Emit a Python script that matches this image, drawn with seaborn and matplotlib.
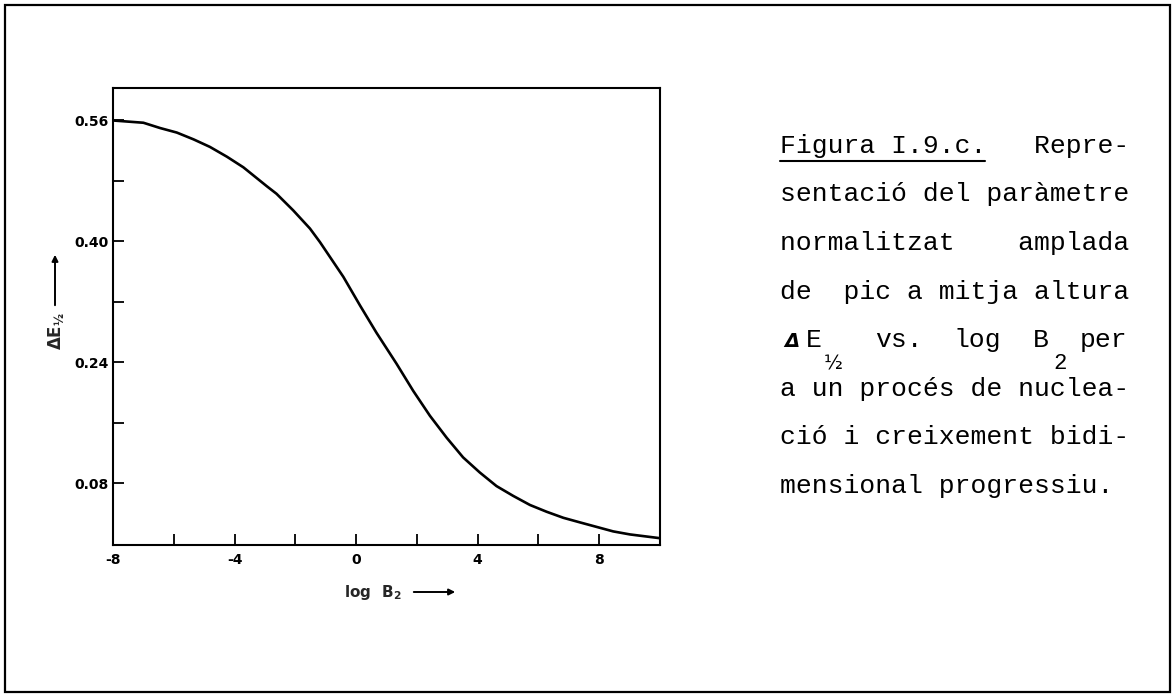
import matplotlib
matplotlib.use("Agg")
import matplotlib.pyplot as plt
import seaborn as sns
import pandas as pd
from matplotlib.patches import Rectangle, FancyArrowPatch
from matplotlib.lines import Line2D

# Normalised half-peak width vs. log B2 (progressive 2D nucleation and growth)
log_b2 = [-8.00, -7.00, -6.45, -5.90, -5.35, -4.81, -4.25, -3.71, -2.94, -2.62,
          -2.07, -1.52, -1.19, -0.42, 0.13, 0.67, 1.33, 1.88, 2.43, 2.98,
          3.52, 4.07, 4.62, 5.17, 5.72, 6.27, 6.82, 7.36, 7.91, 8.46, 9.01,
          10.00]
delta_e_half = [0.560, 0.557, 0.550, 0.544, 0.535, 0.525, 0.512, 0.498, 0.473,
                0.463, 0.441, 0.417, 0.399, 0.353, 0.315, 0.279, 0.238, 0.202,
                0.169, 0.140, 0.114, 0.094, 0.076, 0.063, 0.051, 0.042, 0.034,
                0.028, 0.022, 0.016, 0.012, 0.007]

x_ticks = [-8, -6, -4, -2, 0, 2, 4, 6, 8]
x_tick_labels = ["-8", "", "-4", "", "0", "", "4", "", "8"]
y_ticks = [0.08, 0.16, 0.24, 0.32, 0.40, 0.48, 0.56]
y_tick_labels = ["0.08", "", "0.24", "", "0.40", "", "0.56"]

caption_lines = [
    "Figura I.9.c.   Repre-",
    "sentació del paràmetre",
    "normalitzat    amplada",
    "de  pic a mitja altura",
    None,
    "a un procés de nuclea-",
    "ció i creixement bidi-",
    "mensional progressiu.",
]

sns.set_theme(style="white")
plt.rcParams["font.family"] = ["DejaVu Sans"]

W, H = 1173, 696
fig = plt.figure(figsize=(W / 100, H / 100), dpi=100)
fig.patch.set_facecolor("white")


def fx(px):
    return px / W


def fy(py):
    return 1 - py / H


ax = fig.add_axes([fx(113), fy(545), fx(660) - fx(113), fy(88) - fy(545)])
df = pd.DataFrame({"logB2": log_b2, "dE": delta_e_half})
sns.lineplot(data=df, x="logB2", y="dE", ax=ax, color="black", lw=1.9,
             errorbar=None, solid_joinstyle="round", solid_capstyle="round")

ax.set_xlim(-8, 10)
ax.set_ylim(-0.002, 0.603)
ax.set_xticks(x_ticks)
ax.set_xticklabels(x_tick_labels)
ax.set_yticks(y_ticks)
ax.set_yticklabels(y_tick_labels)
ax.tick_params(axis="both", which="major", direction="in", length=8, width=1.3,
               colors="black", labelsize=10, bottom=True, left=True,
               top=False, right=False)
ax.tick_params(axis="x", pad=6)
ax.tick_params(axis="y", pad=3)
for lab in ax.get_xticklabels() + ax.get_yticklabels():
    lab.set_fontweight("bold")
for sp in ax.spines.values():
    sp.set_visible(True)
    sp.set_color("black")
    sp.set_linewidth(1.5)
ax.set_xlabel("")
ax.set_ylabel("")
ax.set_facecolor("white")

# Axis titles with arrows
fig.text(fx(344), fy(592), r"log  $\mathbf{B_2}$", fontsize=11, fontweight="bold",
         ha="left", va="center")
fig.add_artist(FancyArrowPatch(
    (fx(411), fy(592)), (fx(458), fy(592)), transform=fig.transFigure,
    arrowstyle="-|>", mutation_scale=9, lw=1.4, color="black"))
fig.text(fx(56), fy(331), r"$\mathbf{\Delta E_{½}}$", fontsize=12,
         rotation=90, ha="center", va="center")
fig.add_artist(FancyArrowPatch(
    (fx(55), fy(308)), (fx(55), fy(252)), transform=fig.transFigure,
    arrowstyle="-|>", mutation_scale=9, lw=1.4, color="black"))

# Caption block
mono = "Liberation Mono"
ink = "black"
cw = 15.8
x0 = 780
base0 = 153
step = 48.5
for i, line in enumerate(caption_lines):
    if line is None:
        continue
    fig.text(fx(x0), fy(base0 + i * step), line, family=mono, fontsize=19,
             ha="left", va="baseline", color=ink)

# underline of the figure number
fig.add_artist(Line2D([fx(x0), fx(x0 + 13 * cw)], [fy(161), fy(161)],
                      transform=fig.transFigure, color=ink, lw=1.5))

# fifth caption line: ΔE½ vs. log B2 per
b5 = base0 + 4 * step
fig.text(fx(784), fy(b5), "Δ", family="DejaVu Sans", style="italic",
         fontweight="bold", fontsize=14, ha="left", va="baseline", color=ink)
fig.text(fx(806), fy(b5), "E", family=mono, fontsize=19, ha="left",
         va="baseline", color=ink)
fig.text(fx(824), fy(b5 + 8), "½", family="DejaVu Sans", fontsize=14,
         ha="left", va="top", color=ink)
for col, word in [(6, "vs."), (11, "log"), (16, "B"), (19, "per")]:
    fig.text(fx(x0 + col * cw), fy(b5), word, family=mono, fontsize=19,
             ha="left", va="baseline", color=ink)
fig.text(fx(1053), fy(b5 + 6), "2", family=mono, fontsize=16,
         ha="left", va="top", color=ink)

# Outer frame
fig.add_artist(Rectangle((fx(5), fy(692)), fx(1170) - fx(5), fy(5) - fy(692),
                         transform=fig.transFigure, fill=False,
                         edgecolor="black", lw=1.6))

fig.savefig("out.png", dpi=100, facecolor="white")
